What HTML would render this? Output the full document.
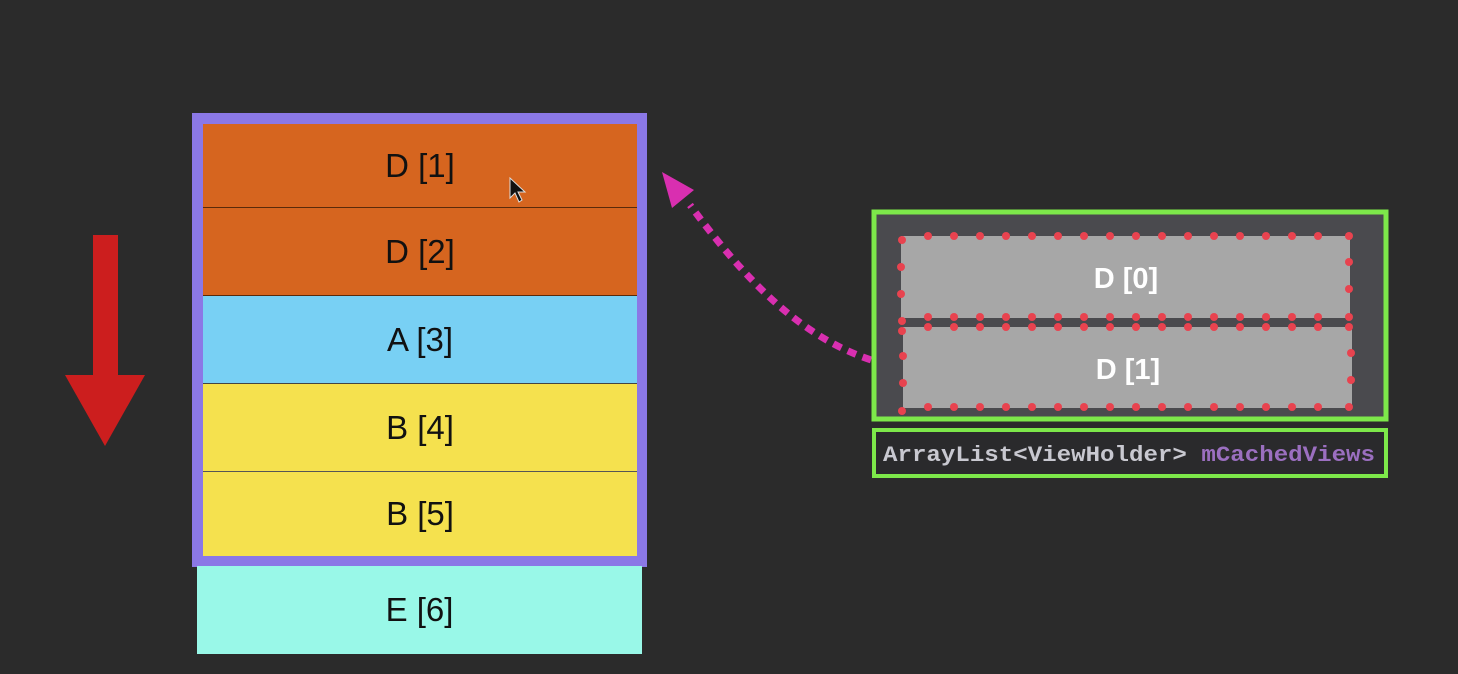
<!DOCTYPE html>
<html><head><meta charset="utf-8"><style>
html,body{margin:0;padding:0;background:#2b2b2b;width:1458px;height:674px;overflow:hidden;font-family:"Liberation Sans",sans-serif}
.a{position:absolute;box-sizing:border-box}
.row{position:absolute;left:203px;width:434px;display:flex;align-items:center;justify-content:center;font-size:33px;color:#111;box-sizing:border-box}
</style></head><body>
<div class="a" style="left:192px;top:113px;width:455px;height:454px;background:#8b78e6"></div>
<div class="row" style="top:124px;height:84px;background:#d6651f;border-bottom:1px solid #5a2a0a">D [1]</div>
<div class="row" style="top:208px;height:88px;background:#d6651f;border-bottom:1px solid #5a2a0a">D [2]</div>
<div class="row" style="top:296px;height:88px;background:#78d0f4;border-bottom:1px solid #444">A [3]</div>
<div class="row" style="top:384px;height:88px;background:#f5e14e;border-bottom:1px solid #555">B [4]</div>
<div class="row" style="top:472px;height:84px;background:#f5e14e">B [5]</div>
<div class="row" style="left:197px;width:445px;top:566px;height:88px;background:#99f8e8">E [6]</div>
<svg class="a" style="left:0;top:0" width="1458" height="674">
<rect x="93" y="235" width="25" height="142" fill="#cc1e1e"/>
<polygon points="65,375 145,375 105,446" fill="#cc1e1e"/>
<polygon points="510,178 510,198 515,193 519,202 522,200 518,192 525,192" fill="#111" stroke="#ddd" stroke-width="1"/>
<path d="M902,368 C820,352 760,300 690,205" fill="none" stroke="#d92fb0" stroke-width="7" stroke-dasharray="9,7"/>
<polygon points="662,172 694,190 672,208" fill="#d92fb0"/>
<rect x="874" y="212" width="512" height="207" fill="#4a4a4e" stroke="#7de84a" stroke-width="5"/>
<rect x="901" y="236" width="449" height="82" fill="#a7a7a7"/>
<rect x="903" y="327" width="449" height="81" fill="#a7a7a7"/>
<g fill="#e8434f">
<g id="t">
<circle cx="902" cy="240" r="4"/><circle cx="928" cy="236" r="4"/><circle cx="954" cy="236" r="4"/><circle cx="980" cy="236" r="4"/><circle cx="1006" cy="236" r="4"/><circle cx="1032" cy="236" r="4"/><circle cx="1058" cy="236" r="4"/><circle cx="1084" cy="236" r="4"/><circle cx="1110" cy="236" r="4"/><circle cx="1136" cy="236" r="4"/><circle cx="1162" cy="236" r="4"/><circle cx="1188" cy="236" r="4"/><circle cx="1214" cy="236" r="4"/><circle cx="1240" cy="236" r="4"/><circle cx="1266" cy="236" r="4"/><circle cx="1292" cy="236" r="4"/><circle cx="1318" cy="236" r="4"/><circle cx="1349" cy="236" r="4"/>
</g>
<use href="#t" y="81"/><use href="#t" y="91"/><use href="#t" y="171"/>
<circle cx="901" cy="267" r="4"/><circle cx="901" cy="294" r="4"/><circle cx="1349" cy="262" r="4"/><circle cx="1349" cy="289" r="4"/>
<circle cx="903" cy="356" r="4"/><circle cx="903" cy="383" r="4"/><circle cx="1351" cy="353" r="4"/><circle cx="1351" cy="380" r="4"/>
</g>
<text x="1126" y="288" fill="#fff" font-size="29" font-weight="bold" text-anchor="middle" font-family="Liberation Sans">D [0]</text>
<text x="1128" y="379" fill="#fff" font-size="29" font-weight="bold" text-anchor="middle" font-family="Liberation Sans">D [1]</text>
<rect x="874" y="430" width="512" height="46" fill="#2a2a2c" stroke="#7de84a" stroke-width="4"/>
<text x="883" y="461" font-size="22" font-family="Liberation Mono" font-weight="bold" textLength="492" lengthAdjust="spacingAndGlyphs"><tspan fill="#c8c8d0">ArrayList&lt;ViewHolder&gt; </tspan><tspan fill="#9b6fc0">mCachedViews</tspan></text>
</svg>
</body></html>
